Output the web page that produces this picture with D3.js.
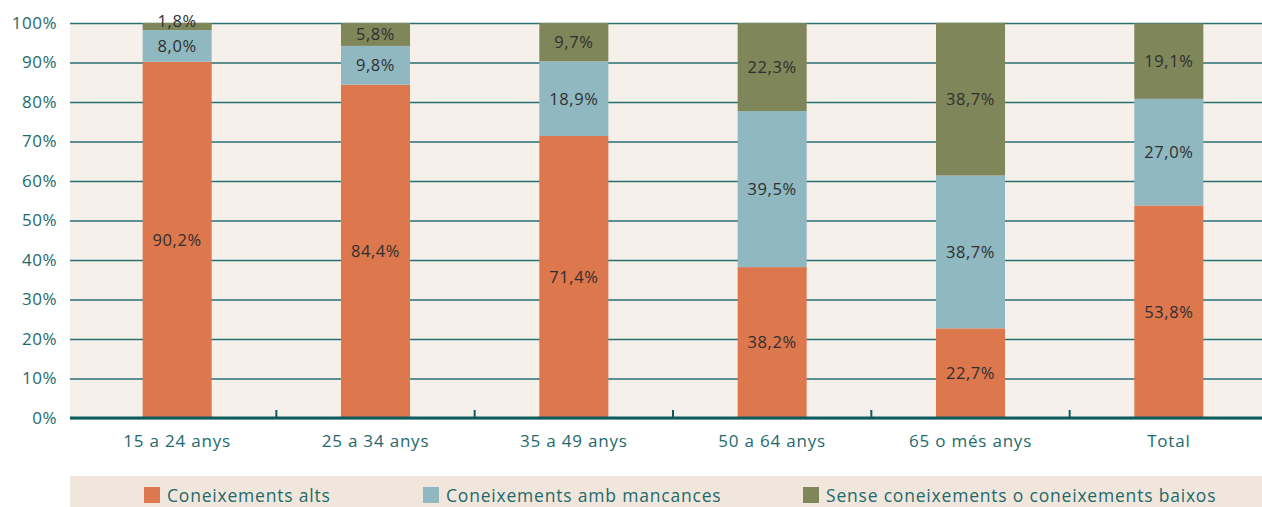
<!DOCTYPE html>
<html>
<head>
<meta charset="utf-8">
<script src="https://cdn.jsdelivr.net/npm/d3@7"></script>
<style>
  html, body { margin: 0; padding: 0; background: #ffffff; }
  svg { display: block; font-family: "Open Sans", "Noto Sans", sans-serif; }
</style>
</head>
<body>
<svg id="chart" width="1262" height="507"></svg>
<script>
// Age groups and the share of each knowledge level (%)
const categories = ["15 a 24 anys", "25 a 34 anys", "35 a 49 anys", "50 a 64 anys", "65 o més anys", "Total"];
const seriesNames = ["Coneixements alts", "Coneixements amb mancances", "Sense coneixements o coneixements baixos"];
const alts = [90.2, 84.4, 71.4, 38.2, 22.7, 53.8];
const mancances = [8.0, 9.8, 18.9, 39.5, 38.7, 27.0];
const baixos = [1.8, 5.8, 9.7, 22.3, 38.7, 19.1];
const yTicks = [0, 10, 20, 30, 40, 50, 60, 70, 80, 90, 100];

const colors = ["#dd774d", "#8fb8c0", "#7f8659"];
const teal = "#1d6a6c";

const svg = d3.select("#chart");
const plot = { left: 70, right: 1262, top: 23, bottom: 418 };

const rows = categories.map((c, i) => ({ cat: c, s0: alts[i], s1: mancances[i], s2: baixos[i] }));
const stack = d3.stack().keys(["s0", "s1", "s2"])(rows);

const x = d3.scaleBand()
  .domain(categories)
  .range([78, 1268])
  .paddingInner(0.652)
  .paddingOuter(0.326);

const y = d3.scaleLinear().domain([0, 100]).range([plot.bottom, plot.top]);

// plot background
svg.append("rect")
  .attr("x", plot.left).attr("y", plot.top)
  .attr("width", plot.right - plot.left).attr("height", plot.bottom - plot.top)
  .attr("fill", "#f5f0ea");

// horizontal gridlines + y labels
const yAxis = d3.axisLeft(y)
  .tickValues(yTicks)
  .tickSize(-(plot.right - plot.left))
  .tickPadding(13)
  .tickFormat(d => d + "%");
const gy = svg.append("g").attr("transform", `translate(${plot.left},0)`).call(yAxis);
gy.select(".domain").remove();
gy.selectAll(".tick line").attr("stroke", "#2a6f72").attr("stroke-width", 1.3);
gy.selectAll(".tick text")
  .attr("fill", teal).attr("font-size", 17).attr("letter-spacing", 0.5)
  .attr("font-family", "'Open Sans', sans-serif");

// stacked bars, clipped to the plot area
svg.append("clipPath").attr("id", "plotclip")
  .append("rect").attr("x", plot.left).attr("y", plot.top - 0.6)
  .attr("width", plot.right - plot.left).attr("height", plot.bottom - plot.top + 0.6);

const layers = svg.append("g").attr("clip-path", "url(#plotclip)")
  .selectAll("g.layer").data(stack).join("g")
  .attr("class", "layer")
  .attr("fill", (d, i) => colors[i]);

layers.selectAll("rect").data(d => d).join("rect")
  .attr("x", d => x(d.data.cat))
  .attr("width", x.bandwidth())
  .attr("y", d => y(d[1]))
  .attr("height", d => y(d[0]) - y(d[1]));

// value labels
const fmt = v => v.toFixed(1).replace(".", ",") + "%";
const labels = svg.append("g");
stack.forEach(layer => {
  layer.forEach(d => {
    const v = d[1] - d[0];
    let cy = (y(d[0]) + y(d[1])) / 2;
    if (v < 3) cy -= 5;
    labels.append("text")
      .attr("x", x(d.data.cat) + x.bandwidth() / 2)
      .attr("y", cy)
      .attr("dy", "0.36em")
      .attr("text-anchor", "middle")
      .attr("font-size", 16.5)
      .attr("letter-spacing", 0.6)
      .attr("fill", "#2f2f2f")
      .text(fmt(+v.toFixed(1)));
  });
});

// x axis baseline and separators between groups
svg.append("line")
  .attr("x1", plot.left).attr("x2", plot.right)
  .attr("y1", plot.bottom).attr("y2", plot.bottom)
  .attr("stroke", "#0f5c5f").attr("stroke-width", 2.8);

const step = x.step();
const seps = categories.slice(1).map(c => x(c) - x.paddingInner() * step / 2);
svg.append("g").selectAll("line").data(seps).join("line")
  .attr("x1", d => d).attr("x2", d => d)
  .attr("y1", plot.bottom).attr("y2", plot.bottom - 8)
  .attr("stroke", "#0f5c5f").attr("stroke-width", 2);

svg.append("g").selectAll("text").data(categories).join("text")
  .attr("x", d => x(d) + x.bandwidth() / 2)
  .attr("y", 447)
  .attr("text-anchor", "middle")
  .attr("font-size", 17)
  .attr("letter-spacing", 0.8)
  .attr("fill", teal)
  .text(d => d);

// legend
svg.append("rect")
  .attr("x", plot.left).attr("y", 476)
  .attr("width", plot.right - plot.left).attr("height", 31)
  .attr("fill", "#f1e6db");

const legendX = [144, 423, 803];
const lg = svg.append("g").selectAll("g").data(seriesNames).join("g")
  .attr("transform", (d, i) => `translate(${legendX[i]},487)`);
lg.append("rect").attr("width", 16).attr("height", 16).attr("fill", (d, i) => colors[i]);
lg.append("text")
  .attr("x", 23).attr("y", 14.5)
  .attr("font-size", 17.5)
  .attr("letter-spacing", 0.8)
  .attr("fill", teal)
  .text(d => d);
</script>
</body>
</html>
